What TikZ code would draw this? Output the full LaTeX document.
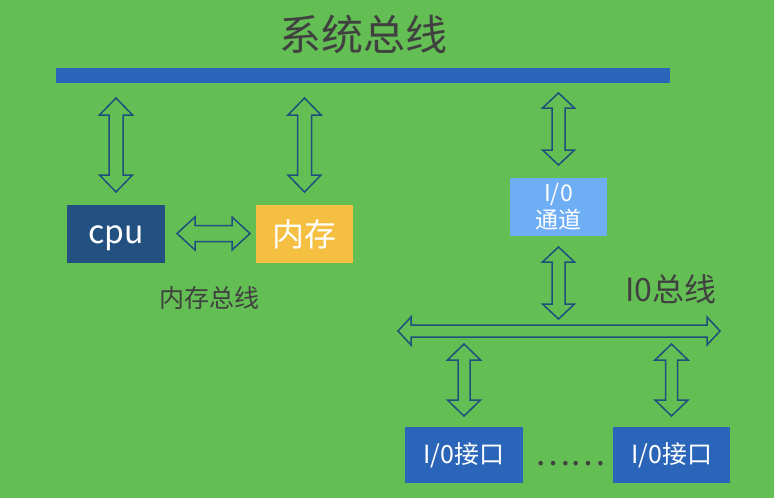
\documentclass[tikz,border=0pt]{standalone}
\usepackage{fontspec}
\setmainfont{Noto Sans CJK SC}
\usetikzlibrary{calc}
\definecolor{bg}{RGB}{99,190,83}
\definecolor{busblue}{RGB}{42,101,185}
\definecolor{cpublue}{RGB}{34,80,128}
\definecolor{memyellow}{RGB}{245,192,66}
\definecolor{iolight}{RGB}{110,174,245}
\definecolor{arrowc}{RGB}{30,80,125}
\definecolor{txtgray}{RGB}{64,64,64}
\tikzset{
  arrowline/.style={draw=arrowc, line width=1.5pt, line join=miter},
  box/.style={inner sep=0pt, text=white, align=center},
  lbl/.style={inner sep=0pt, text=txtgray},
}
\newcommand{\hollowarrow}[5]{%
  \coordinate (h1) at ($(#1)!#3!(#2)$);
  \coordinate (h2) at ($(#2)!#3!(#1)$);
  \draw[arrowline] (#1) -- ($(h1)!#4!90:(#2)$) -- ($(h1)!#5!90:(#2)$)
    -- ($(h2)!#5!-90:(#1)$) -- ($(h2)!#4!-90:(#1)$) -- (#2)
    -- ($(h2)!#4!90:(#1)$) -- ($(h2)!#5!90:(#1)$)
    -- ($(h1)!#5!-90:(#2)$) -- ($(h1)!#4!-90:(#2)$) -- cycle;
}
\begin{document}
\begin{tikzpicture}[x=1pt,y=-1pt]
\useasboundingbox (0,0) rectangle (774,498);
\fill[bg] (0,0) rectangle (774,498);

% title and system bus
\node[lbl, font=\fontsize{42}{48}\selectfont] (title) at (363,34) {系统总线};
\node[fill=busblue, minimum width=614pt, minimum height=15pt, inner sep=0pt] (bus) at (363,75.5) {};

% boxes
\node[box, fill=cpublue, minimum width=98pt, minimum height=58pt, font=\fontsize{32}{38}\selectfont] (cpu) at (116,234) {\raisebox{-4pt}[\height][\depth]{cpu}};
\node[box, fill=memyellow, minimum width=97pt, minimum height=58pt, font=\fontsize{32}{38}\selectfont] (mem) at (304.5,234) {内存};
\node[box, fill=iolight, minimum width=97pt, minimum height=58pt, font=\fontsize{23}{27}\selectfont] (chan) at (558.5,207) {I/0\\通道};
\node[box, fill=busblue, minimum width=118pt, minimum height=56pt, font=\fontsize{25}{30}\selectfont] (if1) at (464,455) {I/0接口};
\node[box, fill=busblue, minimum width=117pt, minimum height=56pt, font=\fontsize{25}{30}\selectfont] (if2) at (671.5,455) {I/0接口};

% labels
\node[lbl, font=\fontsize{25}{30}\selectfont] (membus) at (209,298) {内存总线};
\node[lbl, font=\fontsize{32}{36}\selectfont] (iobus) at (671,289) {I0总线};
\node[lbl, font=\fontsize{33}{38}\selectfont] (dots) at (570.5,464) {……};

% arrow end points
\coordinate (a1s) at (116,98);   \coordinate (a1e) at (116,192);
\coordinate (a2s) at (304.5,98); \coordinate (a2e) at (304.5,192);
\coordinate (a3s) at (558.5,93); \coordinate (a3e) at (558.5,165);
\coordinate (a4s) at (558.5,247); \coordinate (a4e) at (558.5,319);
\coordinate (cms) at (177,233.5); \coordinate (cme) at (250,233.5);
\coordinate (ios) at (398,331);  \coordinate (ioe) at (720,331);
\coordinate (als) at (464,344);  \coordinate (ale) at (464,416);
\coordinate (ars) at (671.5,344); \coordinate (are) at (671.5,416);

\hollowarrow{a1s}{a1e}{17pt}{16.5pt}{7pt}
\hollowarrow{a2s}{a2e}{17pt}{16.5pt}{7pt}
\hollowarrow{a3s}{a3e}{15pt}{16pt}{6.5pt}
\hollowarrow{a4s}{a4e}{15pt}{16pt}{6.5pt}
\hollowarrow{cms}{cme}{18pt}{16.5pt}{8pt}
\hollowarrow{ios}{ioe}{13pt}{14pt}{6pt}
\hollowarrow{als}{ale}{16pt}{16.5pt}{6pt}
\hollowarrow{ars}{are}{16pt}{16.5pt}{6pt}
\end{tikzpicture}
\end{document}
